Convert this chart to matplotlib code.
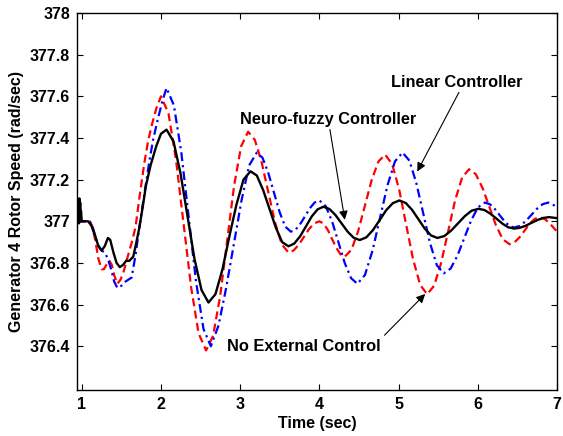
import matplotlib
matplotlib.use("Agg")
import matplotlib.pyplot as plt

# ---------------- data ----------------
t_neuro = [0.94, 0.955, 0.96, 0.965, 0.97, 0.975, 0.98, 0.985, 0.99, 1.0, 1.08, 1.12, 1.17, 1.21,
           1.25, 1.29, 1.33, 1.36, 1.40, 1.44, 1.48, 1.52, 1.56, 1.60, 1.65, 1.69, 1.73, 1.77,
           1.81, 1.87, 1.94, 2.00, 2.07,
           2.158, 2.247, 2.335, 2.423, 2.512, 2.60,
           2.688, 2.777, 2.865, 2.953, 3.042, 3.13,
           3.21, 3.29, 3.37, 3.45, 3.53, 3.61,
           3.683, 3.757, 3.83, 3.903, 3.977, 4.05,
           4.127, 4.203, 4.28, 4.357, 4.433, 4.51,
           4.593, 4.677, 4.76, 4.843, 4.927, 5.01,
           5.09, 5.17, 5.25, 5.33, 5.41, 5.49,
           5.577, 5.663, 5.75, 5.837, 5.923, 6.01,
           6.085, 6.16, 6.235, 6.31, 6.385, 6.46,
           6.533, 6.607, 6.68, 6.753, 6.827, 6.90, 7.0]
y_neuro = [377.0, 377.0, 377.10, 376.99, 377.11, 377.0, 377.09, 377.0, 377.05, 377.0, 377.0, 376.98, 376.93, 376.88,
           376.86, 376.88, 376.92, 376.91, 376.85, 376.80, 376.78, 376.79, 376.81, 376.81, 376.83, 376.90, 376.975, 377.07,
           377.17, 377.27, 377.36, 377.42, 377.44,
           377.384, 377.23, 377.025, 376.82, 376.67, 376.61,
           376.65, 376.77, 376.93, 377.08, 377.20, 377.24,
           377.22, 377.15, 377.06, 376.97, 376.90, 376.88,
           376.893, 376.928, 376.975, 377.023, 377.057, 377.07,
           377.059, 377.03, 376.99, 376.95, 376.921, 376.91,
           376.923, 376.958, 377.005, 377.053, 377.087, 377.10,
           377.088, 377.055, 377.01, 376.965, 376.932, 376.92,
           376.929, 376.955, 376.99, 377.025, 377.051, 377.06,
           377.054, 377.036, 377.013, 376.989, 376.971, 376.965,
           376.969, 376.979, 376.993, 377.006, 377.016, 377.02, 377.015]

t_none = [0.94, 1.10, 1.13, 1.17, 1.21, 1.25, 1.28, 1.31, 1.35, 1.38, 1.41, 1.45, 1.49, 1.53, 1.58,
          1.64, 1.68, 1.73, 1.79, 1.84, 1.89, 1.94, 2.00,
          2.095, 2.19, 2.285, 2.38, 2.475, 2.57,
          2.658, 2.747, 2.835, 2.923, 3.012, 3.10,
          3.185, 3.27, 3.355, 3.44, 3.525, 3.61,
          3.675, 3.74, 3.805, 3.87, 3.935, 4.00,
          4.053, 4.107, 4.16, 4.213, 4.267, 4.32,
          4.405, 4.49, 4.575, 4.66, 4.745, 4.83,
          4.918, 5.007, 5.095, 5.183, 5.272, 5.36,
          5.448, 5.537, 5.625, 5.713, 5.802, 5.89,
          5.975, 6.06, 6.145, 6.23, 6.315, 6.40,
          6.463, 6.527, 6.59, 6.653, 6.717, 6.78, 6.85, 6.92, 7.0]
y_none = [377.0, 377.0, 376.98, 376.91, 376.82, 376.77, 376.77, 376.79, 376.81, 376.79, 376.74, 376.70, 376.72, 376.76, 376.83,
          376.91, 376.975, 377.12, 377.28, 377.39, 377.47, 377.54, 377.60,
          377.518, 377.295, 376.99, 376.685, 376.462, 376.38,
          376.45, 376.64, 376.905, 377.17, 377.36, 377.43,
          377.391, 377.285, 377.14, 376.995, 376.889, 376.85,
          376.86, 376.888, 376.925, 376.963, 376.99, 377.0,
          376.989, 376.958, 376.915, 376.873, 376.841, 376.83,
          376.863, 376.953, 377.075, 377.198, 377.287, 377.32,
          377.275, 377.153, 376.985, 376.818, 376.695, 376.65,
          376.69, 376.80, 376.95, 377.10, 377.21, 377.25,
          377.226, 377.16, 377.07, 376.98, 376.914, 376.89,
          376.899, 376.923, 376.955, 376.988, 377.011, 377.02, 377.01, 376.985, 376.95]

t_linear = [0.94, 1.10, 1.14, 1.20, 1.25, 1.29, 1.33, 1.37, 1.41, 1.45, 1.50, 1.55, 1.63, 1.68,
            1.73, 1.79, 1.85, 1.90, 1.96, 2.02, 2.07,
            2.163, 2.257, 2.35, 2.443, 2.537, 2.63,
            2.727, 2.823, 2.92, 3.017, 3.113, 3.21,
            3.282, 3.353, 3.425, 3.497, 3.568, 3.64,
            3.70, 3.76, 3.82, 3.88, 3.94, 4.00,
            4.08, 4.16, 4.24, 4.32, 4.40, 4.48,
            4.575, 4.67, 4.765, 4.86, 4.955, 5.05,
            5.137, 5.223, 5.31, 5.397, 5.483, 5.57,
            5.657, 5.743, 5.83, 5.917, 6.003, 6.09,
            6.152, 6.213, 6.275, 6.337, 6.398, 6.46,
            6.532, 6.603, 6.675, 6.747, 6.818, 6.89, 7.0]
y_linear = [377.0, 377.0, 376.97, 376.89, 376.86, 376.85, 376.82, 376.77, 376.71, 376.68, 376.69, 376.71, 376.73, 376.84,
            376.98, 377.13, 377.28, 377.39, 377.49, 377.58, 377.64,
            377.557, 377.33, 377.02, 376.71, 376.483, 376.40,
            376.50, 376.68, 376.89, 377.10, 377.268, 377.33,
            377.305, 377.235, 377.14, 377.045, 376.975, 376.95,
            376.96, 376.988, 377.025, 377.063, 377.09, 377.10,
            377.073, 377.0, 376.90, 376.80, 376.727, 376.70,
            376.742, 376.858, 377.015, 377.173, 377.288, 377.33,
            377.291, 377.185, 377.04, 376.895, 376.789, 376.75,
            376.773, 376.835, 376.92, 377.005, 377.067, 377.09,
            377.082, 377.06, 377.03, 377.0, 376.978, 376.97,
            376.978, 377.0, 377.03, 377.06, 377.082, 377.09, 377.07]

x_ticks = [1, 2, 3, 4, 5, 6, 7]
y_ticks = [376.4, 376.6, 376.8, 377.0, 377.2, 377.4, 377.6, 377.8, 378.0]
y_tick_labels = ["376.4", "376.6", "376.8", "377", "377.2", "377.4", "377.6", "377.8", "378"]

labels = ["Linear Controller", "Neuro-fuzzy Controller", "No External Control"]
# ---------------------------------------------------------------

plt.rcParams['font.family'] = ['Liberation Sans', 'DejaVu Sans']
plt.rcParams['font.weight'] = 'bold'

fig = plt.figure(figsize=(5.63, 4.36), dpi=100)
ax = fig.add_axes([77 / 563, 1 - 390 / 436, (557 - 77) / 563, (390 - 13) / 436])

ax.plot(t_none, y_none, color='#ff0000', lw=1.6, linestyle=(0, (3.6, 2.0)))
ax.plot(t_linear, y_linear, color='#0000ff', lw=1.6, linestyle=(0, (4.0, 1.8, 1.0, 1.8)))
ax.plot(t_neuro, y_neuro, color='black', lw=1.7, linestyle='-')

ax.set_xlim(0.94, 7.0)
ax.set_ylim(376.19, 378.0)
ax.set_xticks(x_ticks)
ax.set_xticklabels([str(v) for v in x_ticks])
ax.set_yticks(y_ticks)
ax.set_yticklabels(y_tick_labels)
ax.tick_params(direction='in', length=4, width=0.8, top=True, right=True,
               labelsize=11.5, pad=5)
for lab in ax.get_xticklabels() + ax.get_yticklabels():
    lab.set_fontweight('bold')
for sp in ax.spines.values():
    sp.set_linewidth(1.0)

ax.set_xlabel("Time (sec)", fontsize=11.5, fontweight='bold', labelpad=3)
ax.set_ylabel("Generator 4 Rotor Speed (rad/sec)", fontsize=11.5, fontweight='bold', labelpad=4)

arrow = dict(arrowstyle='-|>', color='black', lw=0.8, mutation_scale=13, shrinkA=0, shrinkB=0)

ax.text(5.737, 377.667, labels[0], ha='center', va='center', fontsize=11.8, fontweight='bold')
ax.annotate('', xy=(5.236, 377.239), xytext=(5.762, 377.619), arrowprops=arrow)

ax.text(4.108, 377.489, labels[1], ha='center', va='center', fontsize=11.8, fontweight='bold')
ax.annotate('', xy=(4.321, 377.007), xytext=(4.133, 377.441), arrowprops=arrow)

ax.text(3.807, 376.40, labels[2], ha='center', va='center', fontsize=11.8, fontweight='bold')
ax.annotate('', xy=(5.336, 376.651), xytext=(4.822, 376.453), arrowprops=arrow)

fig.savefig("out.png", dpi=100)
